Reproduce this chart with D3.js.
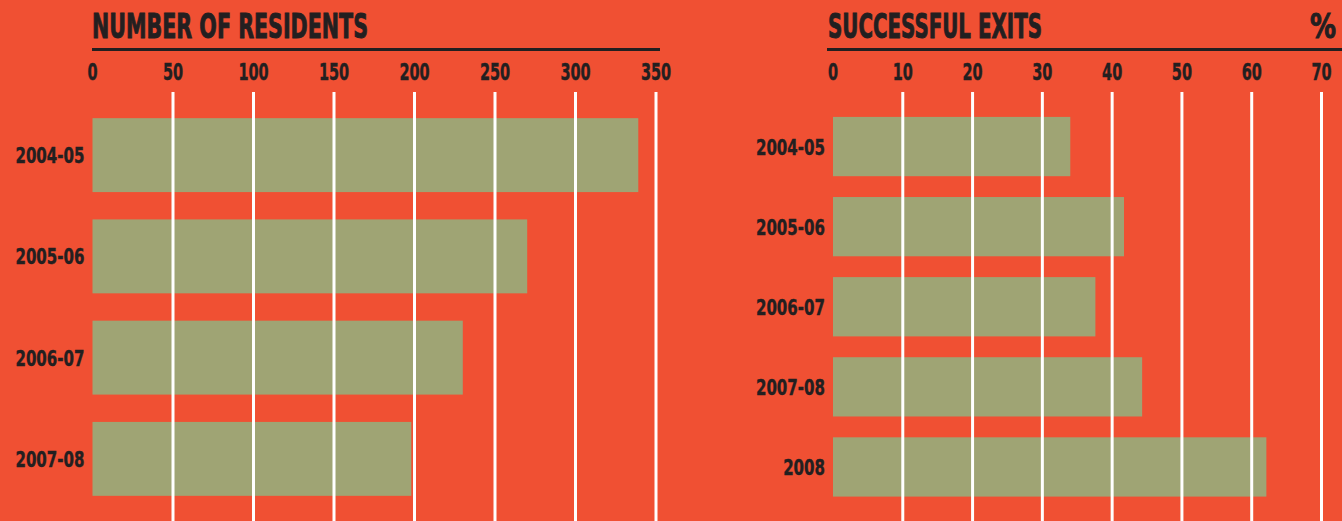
<!DOCTYPE html>
<head>
<style>
  body { margin: 0; background: #F05033; }
  svg { display: block; }
  text { font-family: "DejaVu Sans Condensed", "DejaVu Sans", sans-serif; font-weight: bold; fill: #231F20; }
  .title { stroke: #231F20; stroke-width: 0.9px; }
  .tick-label, .cat { stroke: #231F20; stroke-width: 0.4px; }
</style>
</head>
<body>

<svg width="1342" height="521"></svg>
<script src="https://d3js.org/d3.v7.min.js"></script>

<script>

// left panel: number of residents
var residentYears = ["2004-05", "2005-06", "2006-07", "2007-08"];
var residentCounts = [339, 270, 230, 198];
var residentTicks = [0, 50, 100, 150, 200, 250, 300, 350];

// right panel: successful exits (%)
var exitYears = ["2004-05", "2005-06", "2006-07", "2007-08", "2008"];
var exitPercents = [34, 41.7, 37.6, 44.3, 62.1];
var exitTicks = [0, 10, 20, 30, 40, 50, 60, 70];

var svg = d3.select("svg");
var BAR = "#9FA474";

svg.append("rect").attr("width", 1342).attr("height", 521).attr("fill", "#F05033");

// no narrow font available, so squeeze the glyphs horizontally
function squeeze(sel, k) {
  sel.each(function() {
    var w = this.getComputedTextLength();
    d3.select(this).attr("textLength", w * k).attr("lengthAdjust", "spacingAndGlyphs");
  });
}

function panel(opts) {
  var g = svg.append("g");
  var x = d3.scaleLinear().domain(opts.domain).range(opts.xRange);
  var y = d3.scaleBand().domain(opts.cats).range(opts.yRange).paddingInner(opts.pad).paddingOuter(opts.pad / 2);

  // title + rule
  g.append("text")
      .attr("class", "title")
      .attr("x", opts.titleX).attr("y", 38)
      .style("font-size", "34px")
      .attr("textLength", opts.titleW).attr("lengthAdjust", "spacingAndGlyphs")
      .text(opts.title);
  g.append("line")
      .attr("x1", opts.ruleX[0]).attr("x2", opts.ruleX[1])
      .attr("y1", 49.5).attr("y2", 49.5)
      .attr("stroke", "#231F20").attr("stroke-width", 3);

  // tick labels
  g.selectAll(".tick-label")
    .data(opts.ticks)
    .enter().append("text")
      .attr("class", "tick-label")
      .attr("x", (d) => x(d))
      .attr("y", 80)
      .attr("text-anchor", "middle")
      .style("font-size", "23px")
      .text((d) => d)
      .call(squeeze, 0.7);

  // bars
  g.selectAll("rect.bar")
    .data(opts.values)
    .enter().append("rect")
      .attr("class", "bar")
      .attr("x", x(0))
      .attr("y", (d, i) => y(opts.cats[i]))
      .attr("width", (d) => x(d) - x(0))
      .attr("height", y.bandwidth())
      .attr("fill", BAR);

  // white gridlines over the bars
  g.selectAll(".grid")
    .data(opts.ticks.filter((d) => d > 0))
    .enter().append("line")
      .attr("class", "grid")
      .attr("x1", (d) => x(d)).attr("x2", (d) => x(d))
      .attr("y1", 92).attr("y2", 521)
      .attr("stroke", "#fff").attr("stroke-width", 3);

  // category labels
  g.selectAll(".cat")
    .data(opts.cats)
    .enter().append("text")
      .attr("class", "cat")
      .attr("x", x(0) - 8)
      .attr("y", (d) => y(d) + y.bandwidth() / 2 + 8)
      .attr("text-anchor", "end")
      .style("font-size", "22px")
      .text((d) => d)
      .call(squeeze, 0.76);

  return g;
}

panel({
  title: "NUMBER OF RESIDENTS", titleX: 92, titleW: 276, ruleX: [92, 660],
  domain: [0, 350], xRange: [92.5, 656],
  cats: residentYears, values: residentCounts, ticks: residentTicks,
  yRange: [104.5, 509.5], pad: 0.27
});

var right = panel({
  title: "SUCCESSFUL EXITS", titleX: 828, titleW: 214, ruleX: [827, 1342],
  domain: [0, 70], xRange: [833, 1321.5],
  cats: exitYears, values: exitPercents, ticks: exitTicks,
  yRange: [106.5, 507], pad: 0.26
});

right.append("text")
    .attr("class", "title")
    .attr("x", 1336).attr("y", 38)
    .attr("text-anchor", "end")
    .style("font-size", "34px")
    .text("%")
    .call(squeeze, 0.85);

</script>
</body>
